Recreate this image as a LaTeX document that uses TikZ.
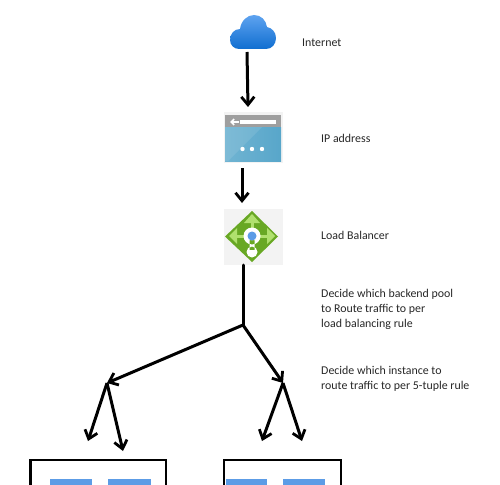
\documentclass[tikz,border=0pt]{standalone}
\usepackage{fontspec}
\setmainfont{Carlito}
\usetikzlibrary{arrows.meta}
\definecolor{txt}{HTML}{262626}
\definecolor{pale}{HTML}{F3F3F3}
\definecolor{vmblue}{HTML}{5C9CE6}
\definecolor{cloudtop}{RGB}{94,163,240}
\definecolor{cloudbot}{RGB}{16,110,208}
\definecolor{ipl}{RGB}{112,180,210}
\definecolor{ipr}{RGB}{88,166,202}
\definecolor{lbdark}{RGB}{104,168,36}
\definecolor{lblight}{RGB}{176,224,110}
\tikzset{
  x=1pt,y=-1pt,
  lbl/.style={anchor=north west,inner sep=0pt,align=left,font=\fontsize{11.9}{15}\selectfont,text=txt},
  link/.style={line width=3pt,black,-{Straight Barb[length=8pt,width=13pt,line width=2.8pt]}},
  plain/.style={line width=3pt,black,line cap=round},
  panel/.style={draw=black,line width=2.8pt,fill=white},
  vm/.style={fill=vmblue,draw=none},
  icon/.style={inner sep=0pt,draw=none,fill=pale,minimum width=59pt,minimum height=53pt}
}
\begin{document}
\begin{tikzpicture}
\useasboundingbox (0,0) rectangle (500,484);
% cloud
\shade[top color=cloudtop,bottom color=cloudbot]
 (239,49) .. controls (234,49) and (230,45) .. (230,40)
 .. controls (230,34) and (234,29) .. (240,29)
 .. controls (241,21) and (247,15) .. (254,15)
 .. controls (261,15) and (266,20) .. (267,27)
 .. controls (272,28) and (276,32) .. (276,38)
 .. controls (276,44) and (272,49) .. (266,49) -- cycle;
\coordinate (cloudfoot) at (247,52);
% IP address icon
\node[icon,minimum height=51pt] (ip) at (253.5,137.5) {};
\fill[gray!75] (225,115) rectangle (281,127);
\fill[left color=ipl,right color=ipr] (225,127) rectangle (281,161);
\fill[white,opacity=.1] (225,161) -- (225,127) -- (262,127) -- (228,161) -- cycle;
\fill[white] (240,120) rectangle (276,124);
\draw[white,line width=1.6pt,-{Straight Barb[length=3pt,width=6pt]}] (239,122) -- (230,122);
\foreach \px in {242.5,252,262}{\fill[white] (\px,149) circle (2.2);}
\coordinate (ipin) at (248,107);
\coordinate (ipfoot) at (242,168);
% Load balancer icon
\node[icon,minimum height=56pt] (lb) at (253.5,237) {};
\fill[lbdark] (252,211) -- (278,236.5) -- (252,262) -- (225,236.5) -- cycle;
\draw[lblight,line width=3pt] (232,236) -- (272,236) (252,236) -- (252,220);
\fill[lblight] (252,214) -- (260,223) -- (244,223) -- cycle
  (229,236) -- (237,228) -- (237,244) -- cycle
  (275,236) -- (267,228) -- (267,244) -- cycle;
\fill[white] (252,236) circle (8.5) (252,252) circle (5.5) (249.5,240) rectangle (254.5,250);
\fill[vmblue] (252,236) circle (4.5);
\coordinate (lbin) at (242,203);
\coordinate (lbfoot) at (243,265);
% junctions
\coordinate (split) at (243,325);
\coordinate (poolA) at (107,383);
\coordinate (poolB) at (283,383);
\coordinate (a1) at (88,441);
\coordinate (a2) at (123,451);
\coordinate (b1) at (262,441);
\coordinate (b2) at (302,441);
% connectors
\draw[link] (cloudfoot) -- (ipin);
\draw[link] (ipfoot) -- (lbin);
\draw[plain] (lbfoot) -- (split);
\draw[link] (split) -- (poolA);
\draw[link] (split) -- (poolB);
\draw[link] (poolA) -- (a1);
\draw[link] (poolA) -- (a2);
\draw[link] (poolB) -- (b1);
\draw[link] (poolB) -- (b2);
% backend panels (cut off by the page edge)
\begin{scope}
\clip (0,0) rectangle (500,484);
\draw[panel] (30.5,460) rectangle (166,500);
\draw[panel] (224,460) rectangle (341,500);
\fill[vm] (50,479) rectangle (92,490);
\fill[vm] (108,479) rectangle (151,490);
\fill[vm] (226,479) rectangle (267,490);
\fill[vm] (283,479) rectangle (325,490);
\end{scope}
% labels
\node[lbl] (t1) at (302,38.5) {Internet};
\node[lbl] (t2) at (321,134.5) {IP address};
\node[lbl] (t3) at (321,231.5) {Load Balancer};
\node[lbl] (t4) at (321,289.5) {Decide which backend pool\\to Route traffic to per\\load balancing rule};
\node[lbl] (t5) at (321,366.5) {Decide which instance to\\route traffic to per 5-tuple rule};
\end{tikzpicture}
\end{document}
